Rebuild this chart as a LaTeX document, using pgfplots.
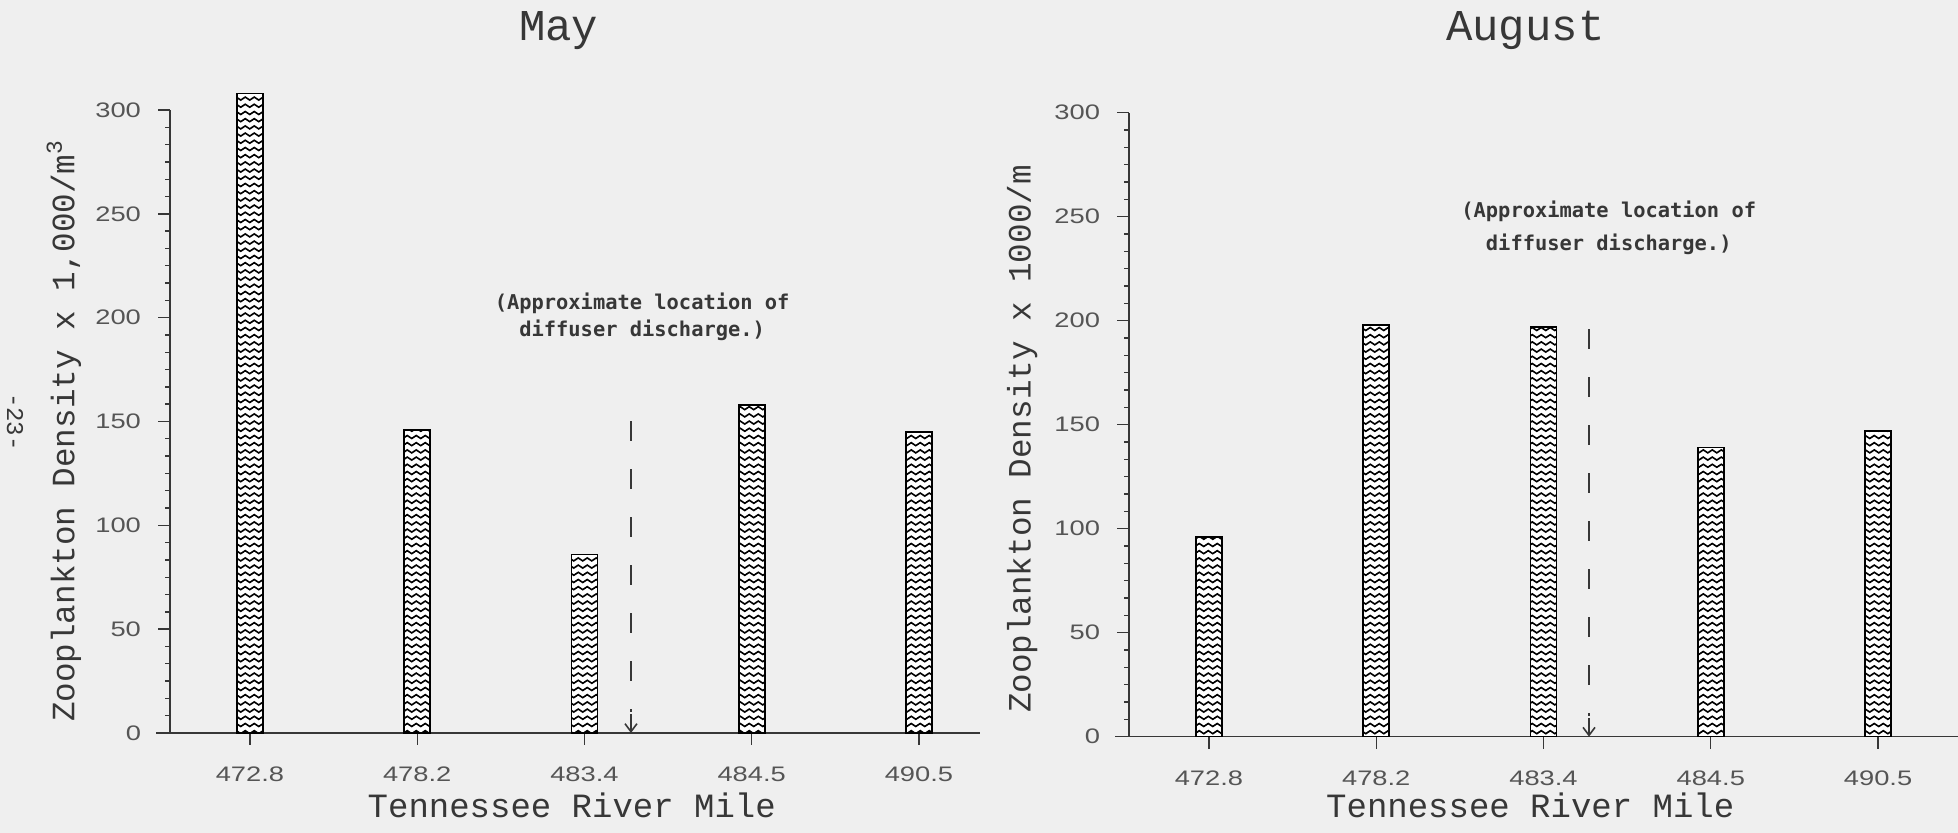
\documentclass[border=0pt]{standalone}
\usepackage{fontspec}
\usepackage{pgfplots}
\usepackage{pgfplotstable}
\pgfplotsset{compat=1.18}
\usetikzlibrary{patterns,arrows.meta}
\setmainfont{Liberation Mono}
\newfontfamily\monofont{Liberation Mono}
\newfontfamily\tickfont[FakeStretch=1.3]{Liberation Sans}
\newfontfamily\notefont{DejaVu Sans Mono}
\definecolor{paper}{RGB}{239,239,239}
\definecolor{ink}{RGB}{55,55,55}
\definecolor{lab}{RGB}{85,85,85}

\pgfdeclarepatternformonly{waves}{\pgfqpoint{-0.5pt}{-1.3pt}}{\pgfqpoint{5pt}{1.3pt}}{\pgfqpoint{4.5pt}{3.6pt}}{%
  \pgfsetlinewidth{0.8pt}%
  \pgfsetroundcap
  \pgfpathmoveto{\pgfqpoint{0pt}{0pt}}%
  \pgfpathcurveto{\pgfqpoint{0.75pt}{1.0pt}}{\pgfqpoint{1.5pt}{1.0pt}}{\pgfqpoint{2.25pt}{0pt}}%
  \pgfpathcurveto{\pgfqpoint{3pt}{-1.0pt}}{\pgfqpoint{3.75pt}{-1.0pt}}{\pgfqpoint{4.5pt}{0pt}}%
  \pgfusepath{stroke}}

\pgfplotstableread{
x y
0 308
1 146
2 86
3 158
4 145
}\maydata
\pgfplotstableread{
x y
0 96
1 198
2 197
3 139
4 147
}\augdata

\pgfplotsset{
  zstyle/.style={
    scale only axis,
    anchor=south west,
    axis lines*=left,
    ymin=0, ymax=300,
    ytick={0,50,...,300},
    minor y tick num=5,
    xtick={0,1,2,3,4},
    xticklabels={472.8,478.2,483.4,484.5,490.5},
    tick align=outside,
    major tick length=6pt,
    minor tick length=2.5pt,
    clip=false,
    axis line style={ink, line width=0.8pt},
    x axis line style={shorten <=-7pt},
    tick style={ink, line width=0.7pt},
    /pgf/number format/assume math mode=true,
    ticklabel style={font=\tickfont\fontsize{10.5}{12}\selectfont, text=lab},
    yticklabel style={xshift=-5pt},
    xticklabel style={yshift=-7.5pt},
    title style={anchor=base, font=\monofont\fontsize{22}{24}\selectfont, text=ink},
    xlabel style={anchor=base, font=\monofont\fontsize{17}{18}\selectfont, text=ink},
    ylabel style={anchor=center, rotate=0, font=\monofont\fontsize{16.3}{18}\selectfont, text=ink},
  },
  zbar/.style={ybar, bar width=13pt, draw=black, line width=0.8pt,
    preaction={fill=white}, pattern=waves},
  zdash/.style={ink, line width=0.8pt, dash pattern=on 10pt off 14pt},
  zarrow/.style={ink, line width=0.8pt, -{Straight Barb[length=4pt,width=6pt]}},
}

\begin{document}
\begin{tikzpicture}
\fill[paper] (0,0) rectangle (979pt,416.5pt);
\useasboundingbox (0,0) rectangle (979pt,416.5pt);

\node[rotate=-90, font=\monofont\fontsize{12}{12}\selectfont, text=ink] at (7.5pt,205.5pt) {-23-};

% May
\begin{axis}[zstyle,
  at={(85pt,50pt)}, width=405pt, height=311.5pt,
  xmin=-0.478, xmax=4.365,
  title={May},
  title style={at={(axis description cs:0.48,1.093)}},
  xlabel={Tennessee River Mile},
  xlabel style={at={(axis description cs:0.496,-0.136)}},
  ylabel={Zooplankton Density x 1,000/m\textsuperscript{3}},
  ylabel style={at={(axis description cs:-0.131,0.485)}},
]
\addplot[zbar] table[x=x,y=y] {\maydata};
\addplot[zdash] coordinates {(2.278,150) (2.278,10)};
\addplot[zarrow] coordinates {(2.278,9) (2.278,0)};
\node[font=\notefont\bfseries\fontsize{10.2}{12}\selectfont, text=ink, anchor=base] at (axis cs:2.345,203.7) {(Approximate location of};
\node[font=\notefont\bfseries\fontsize{10.2}{12}\selectfont, text=ink, anchor=base] at (axis cs:2.345,190.7) {diffuser discharge.)};
\end{axis}

% August
\begin{axis}[zstyle,
  at={(564.5pt,48.15pt)}, width=414.5pt, height=312pt,
  xmin=-0.478, xmax=4.478,
  title={August},
  title style={at={(axis description cs:0.478,1.097)}},
  xlabel={Tennessee River Mile},
  xlabel style={at={(axis description cs:0.484,-0.130)}},
  ylabel={Zooplankton Density x 1000/m},
  ylabel style={at={(axis description cs:-0.129,0.477)}},
]
\addplot[zbar] table[x=x,y=y] {\augdata};
\addplot[zdash] coordinates {(2.272,196) (2.272,10)};
\addplot[zarrow] coordinates {(2.272,9) (2.272,0)};
\node[font=\notefont\bfseries\fontsize{10.2}{12}\selectfont, text=ink, anchor=base] at (axis cs:2.39,249.4) {(Approximate location of};
\node[font=\notefont\bfseries\fontsize{10.2}{12}\selectfont, text=ink, anchor=base] at (axis cs:2.39,233.8) {diffuser discharge.)};
\end{axis}
\end{tikzpicture}
\end{document}
